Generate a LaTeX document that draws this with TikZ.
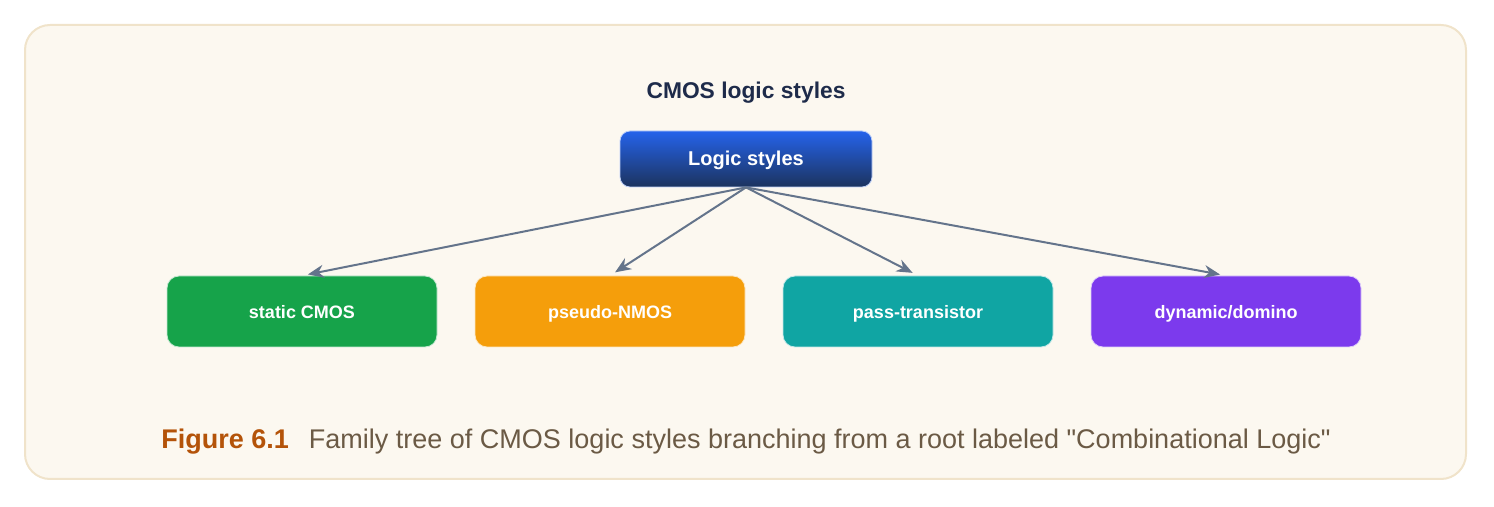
\documentclass[tikz,border=0pt]{standalone}
\usepackage{fontspec}
\setmainfont{Liberation Sans}[Ligatures=TeXOff]
\usetikzlibrary{arrows.meta}

\definecolor{panelfill}{HTML}{FCF8F0}
\definecolor{paneledge}{HTML}{F0E3CA}
\definecolor{titlecol}{HTML}{1E2B4A}
\definecolor{roottop}{HTML}{2563EB}
\definecolor{rootbot}{HTML}{1C335E}
\definecolor{linkcol}{HTML}{64748B}
\definecolor{figcol}{HTML}{B45309}
\definecolor{capcol}{HTML}{6B5A45}
\definecolor{cgreen}{HTML}{16A34A}
\definecolor{corange}{HTML}{F59E0B}
\definecolor{cteal}{HTML}{10A5A3}
\definecolor{cpurple}{HTML}{7C3AED}

\begin{document}
\begin{tikzpicture}[x=0.5pt,y=-0.5pt,
  root/.style={rounded corners=5pt,draw=white!70!roottop,line width=0.4pt,top color=roottop,bottom color=rootbot,
    minimum width=126pt,minimum height=28pt,text=white,text height=9pt,text depth=2pt,
    font=\bfseries\fontsize{10}{12}\selectfont},
  leaf/.style={rounded corners=6pt,draw=white!75!#1,line width=0.4pt,fill=#1,
    minimum width=135pt,minimum height=35.5pt,text=white,text height=8.5pt,text depth=1.8pt,
    font=\bfseries\fontsize{9}{11}\selectfont},
  link/.style={draw=linkcol,line width=1pt,-{Stealth[length=8pt,width=6.5pt]},shorten >=3pt}]

  \useasboundingbox (0,0) rectangle (1494,507);
  \draw[fill=panelfill,draw=paneledge,line width=1pt,rounded corners=12.5pt] (25,25) rectangle (1466,479);

  \node[text=titlecol,font=\bfseries\fontsize{11.4}{13}\selectfont] (title) at (746,93) {CMOS logic styles};
  \node[root] (logic) at (746,159) {Logic styles};

  \foreach \name/\x/\col/\txt in {static/302/cgreen/static CMOS,pseudo/610/corange/pseudo-NMOS,
      pass/918/cteal/pass-transistor,dynamic/1226/cpurple/{dynamic/domino}} {
    \node[leaf=\col] (\name) at (\x,311.5) {\txt};
    \draw[link] (logic.south) -- (\name.north);
  }

  \node[font=\fontsize{13.5}{16}\selectfont,text=capcol] (caption) at (746,442)
    {\textcolor{figcol}{\bfseries Figure 6.1}\hspace{10pt}Family tree of CMOS logic styles branching from a root labeled "Combinational Logic"};

\end{tikzpicture}
\end{document}
